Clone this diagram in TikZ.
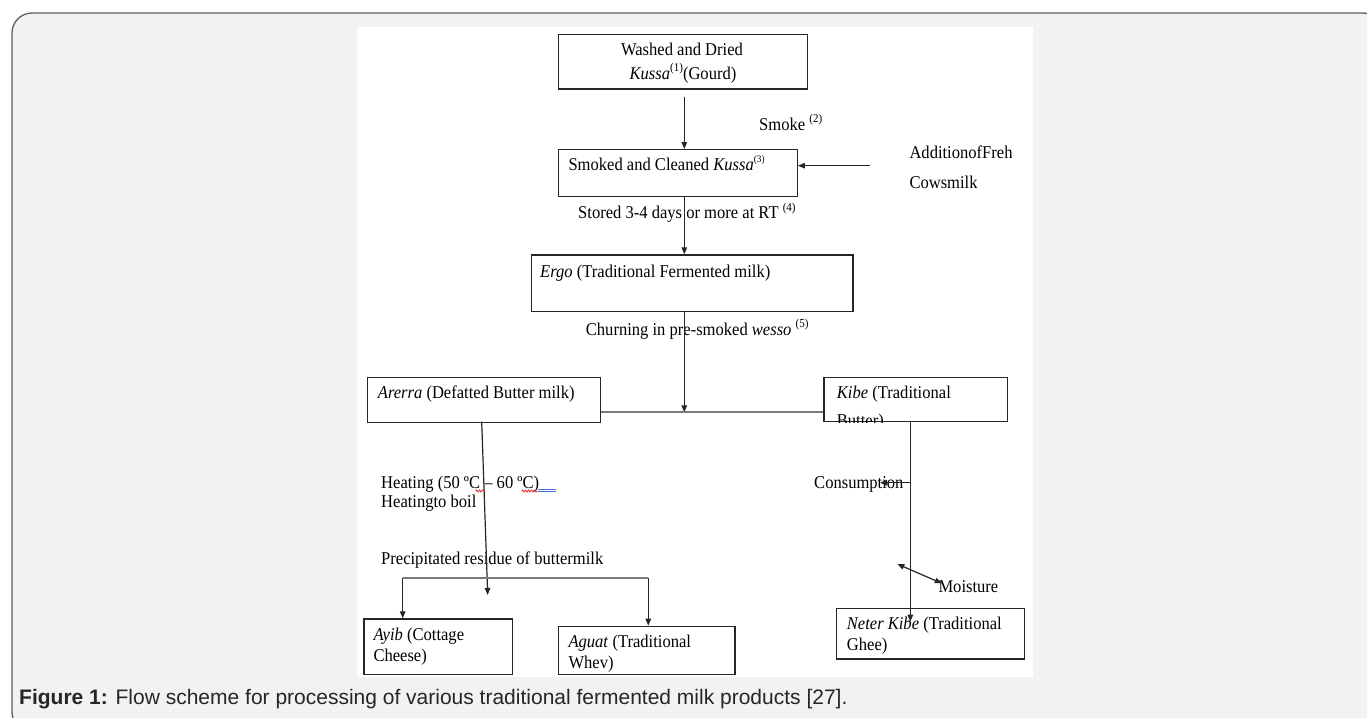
\documentclass[tikz,border=0pt]{standalone}
\usepackage{fontspec}
\setmainfont{Liberation Serif}[FakeStretch=0.92]
\newfontfamily\capfont{Liberation Sans}
\usetikzlibrary{arrows.meta,decorations.pathmorphing}
\definecolor{panelgray}{HTML}{F1F2F4}
\definecolor{framegray}{HTML}{5E5E5E}
\definecolor{linegray}{HTML}{7A7A7A}
\definecolor{spellred}{HTML}{E02828}
\definecolor{spellblue}{HTML}{4A6FD0}
\newcommand{\supnum}[1]{\raisebox{0.42em}{\fontsize{12}{12}\selectfont #1}}
\newcommand{\supsmall}[1]{\raisebox{0.45em}{\fontsize{10}{10}\selectfont #1}}
\begin{document}
\begin{tikzpicture}[x=1pt,y=-1pt,
    procbox/.style={draw=black!85,line width=1.2pt,anchor=north west},
    flow/.style={draw=black!85,line width=1.2pt,-{Triangle[length=7pt,width=5.5pt]}},
    flowboth/.style={draw=black!85,line width=1.2pt,{Triangle[length=7pt,width=5.5pt]}-{Triangle[length=7pt,width=5.5pt]}},
    txt/.style={anchor=base west,font=\fontsize{18}{23}\selectfont},
    spell/.style={spellred,line width=0.8pt,decorate,decoration={snake,amplitude=1pt,segment length=3pt}}]
    \tikzstyle{every node}+=[inner sep=0pt]
    \useasboundingbox (0,0) rectangle (1367,717);
    % page panel
    \begin{scope}
        \clip (0,0) rectangle (1367,717);
        \draw [framegray,fill=panelgray,line width=1.3pt,rounded corners=20pt] (12,13) rectangle (1383,732);
    \end{scope}
    \fill [white] (357,27) rectangle (1033,677);
    % boxes
    \node [procbox,minimum width=249pt,minimum height=54pt] (kussa) at (557.7,34.3) {};
    \node [procbox,minimum width=239pt,minimum height=46.7pt] (smoked) at (557.7,149) {};
    \node [procbox,minimum width=321.6pt,minimum height=56.4pt] (ergo) at (530.7,254.3) {};
    \node [procbox,minimum width=233.3pt,minimum height=45pt] (arerra) at (366.7,376.7) {};
    \node [procbox,minimum width=183.4pt,minimum height=44.5pt] (kibe) at (823.3,376.7) {};
    \node [procbox,minimum width=148.4pt,minimum height=55.7pt] (ayib) at (363.3,618.3) {};
    \node [procbox,minimum width=176.6pt,minimum height=48.3pt] (aguat) at (557.7,625.7) {};
    \node [procbox,minimum width=188pt,minimum height=50.6pt] (neter) at (836,607.7) {};
    % box texts
    \node [txt,anchor=base] (kussa1) at (682,55.5) {Washed and Dried};
    \node [txt,anchor=base] (kussa2) at (683,79) {\textit{Kussa}\supnum{(1)}(Gourd)};
    \node [txt] (smokedt) at (568.3,170.5) {Smoked and Cleaned \textit{Kussa}\supsmall{(3)}};
    \node [txt] (ergot) at (540,277.2) {\textit{Ergo} (Traditional Fermented milk)};
    \node [txt] (arerrat) at (377.7,398.8) {\textit{Arerra} (Defatted Butter milk)};
    \node [txt] (kibet) at (836.7,398.8) {\textit{Kibe} (Traditional};
    \begin{scope}
        \clip (kibe.north west) rectangle (kibe.south east);
        \node [txt] (kibet2) at (836.7,426) {Butter)};
    \end{scope}
    \node [txt] (ayibt) at (373.3,640.5) {\textit{Ayib} (Cottage};
    \node [txt] (ayibt2) at (373.3,661.5) {Cheese)};
    \node [txt] (aguatt) at (568.3,647.2) {\textit{Aguat} (Traditional};
    \node [txt] (aguatt2) at (568.3,668.8) {Whev)};
    \node [txt] (netert) at (846.7,629.5) {\textit{Neter Kibe} (Traditional};
    \node [txt] (netert2) at (846.7,650.5) {Ghee)};
    % step labels
    \node [txt] (smoke) at (759,130) {Smoke \supnum{(2)}};
    \node [txt] (freh1) at (909.3,158.8) {AdditionofFreh};
    \node [txt] (freh2) at (909.3,188.8) {Cowsmilk};
    \node [txt] (stored) at (578,218.8) {Stored 3-4 days or more at RT \supnum{(4)}};
    \node [txt] (churn) at (585.7,335.5) {Churning in pre-smoked \textit{wesso} \supnum{(5)}};
    \node [txt] (heat1) at (381,488.2) {Heating (50 ºC – 60 ºC)};
    \node [txt] (heat2) at (381,507.2) {Heatingto boil};
    \node [txt] (resid) at (381,564.8) {Precipitated residue of buttermilk};
    \node [txt] (cons) at (814,488.2) {Consumption};
    \node [txt] (moist) at (938.3,592.8) {Moisture};
    % spelling marks
    \draw [spell] (475.7,491) -- (485,491);
    \draw [spell] (521.7,491) -- (537.7,491);
    \draw [spellblue,line width=0.8pt] (537.7,489.3) -- (556,489.3);
    \draw [spellblue,line width=0.8pt] (537.7,491.8) -- (556,491.8);
    % connectors
    \coordinate (trunk) at (684.3,96.7);
    \draw [flow] (trunk) -- (trunk |- smoked.north);
    \coordinate (frehin) at (870,165.7);
    \draw [flow] (frehin) -- (frehin -| smoked.east);
    \draw [flow] (trunk |- smoked.south) -- (trunk |- ergo.north);
    \coordinate (split) at (684.3,412.3);
    \draw [flow] (trunk |- ergo.south) -- (split);
    \draw [linegray,line width=2pt] (split -| arerra.east) -- (split -| kibe.west);
    \coordinate (arout) at (481.7,421.7);
    \coordinate (arend) at (487.7,595);
    \draw [flow] (arout) -- (arend);
    \coordinate (bl) at (402.7,577.7);
    \coordinate (br) at (648.3,577.7);
    \draw [linegray,line width=1.8pt] (bl) -- (br);
    \draw [flow] (bl) -- (bl |- ayib.north);
    \draw [flow] (br) -- (br |- aguat.north);
    \coordinate (kbend) at (910.3,621.7);
    \draw [flow] (kibe.south -| kbend) -- (kbend);
    \coordinate (consend) at (880,482.7);
    \draw [flow] (kbend |- consend) -- (consend);
    \coordinate (m1) at (897.3,564);
    \coordinate (m2) at (941.7,583.3);
    \draw [flowboth] (m1) -- (m2);
    % caption
    \node [anchor=base west,font=\capfont\fontsize{21}{24}\selectfont,text=black!85] (caption) at (19,704) {\textbf{Figure 1:} Flow scheme for processing of various traditional fermented milk products [27].};
\end{tikzpicture}
\end{document}
